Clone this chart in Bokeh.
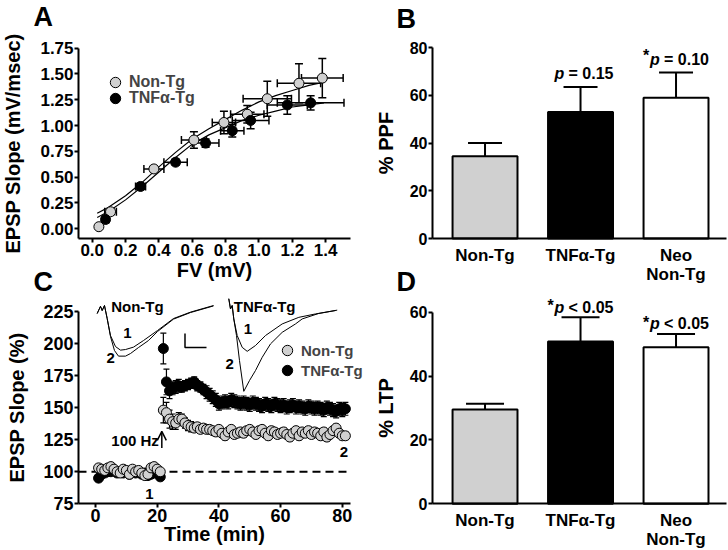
import numpy as np
from bokeh.plotting import figure
from bokeh.layouts import row, column
from bokeh.models import (ColumnDataSource, Whisker, TeeHead, Legend, LegendItem, Label,
                          Arrow, OpenHead, FixedTicker, Range1d, PrintfTickFormatter)
from bokeh.core.properties import value
from bokeh.embed import file_html
from bokeh.resources import INLINE

FONT = "Liberation Sans"
GRAY = "#d0d0d0"

# ---------------- Panel A: input/output ----------------
a_nontg_fv = [0.04, 0.11, 0.37, 0.61, 0.79, 0.93, 1.05, 1.24, 1.38]
a_nontg_fv_err = [0.01, 0.035, 0.06, 0.075, 0.07, 0.10, 0.145, 0.13, 0.125]
a_nontg_slope = [0.02, 0.165, 0.58, 0.86, 1.03, 1.11, 1.26, 1.41, 1.46]
a_nontg_slope_err = [0.01, 0.03, 0.03, 0.08, 0.11, 0.085, 0.17, 0.19, 0.19]
a_tnf_fv = [0.08, 0.29, 0.50, 0.68, 0.84, 0.95, 1.17, 1.31]
a_tnf_fv_err = [0.02, 0.03, 0.07, 0.08, 0.07, 0.11, 0.12, 0.20]
a_tnf_slope = [0.09, 0.41, 0.645, 0.83, 0.95, 1.05, 1.20, 1.22]
a_tnf_slope_err = [0.02, 0.03, 0.03, 0.04, 0.06, 0.08, 0.09, 0.07]
a_fit_fv = [0.03, 0.1, 0.2, 0.3, 0.4, 0.5, 0.6, 0.7, 0.8, 0.9, 1.0, 1.1, 1.2, 1.3, 1.39]
a_fit_nontg = [0.15, 0.21, 0.32, 0.45, 0.60, 0.74, 0.87, 0.97, 1.06, 1.15, 1.23, 1.29, 1.34, 1.39, 1.42]
a_fit_tnf = [0.11, 0.17, 0.28, 0.41, 0.55, 0.69, 0.82, 0.91, 0.98, 1.05, 1.10, 1.14, 1.18, 1.20, 1.22]
a_xticks = [0.0, 0.2, 0.4, 0.6, 0.8, 1.0, 1.2, 1.4]
a_yticks = [0.0, 0.25, 0.5, 0.75, 1.0, 1.25, 1.5, 1.75]
a_xlim = (-0.082, 1.55)
a_ylim = (-0.097, 1.75)

# ---------------- Panel B / D: bars ----------------
bar_categories = ["Non-Tg", "TNF\u03b1-Tg", "Neo\nNon-Tg"]
bar_fills = [GRAY, "#000000", "#ffffff"]
ppf_mean = [34.5, 53.0, 59.0]
ppf_err = [5.5, 10.5, 10.5]
ppf_star = [False, False, True]
ppf_ptext = [None, "= 0.15", "= 0.10"]
ltp_mean = [29.5, 50.8, 49.0]
ltp_err = [1.8, 7.6, 4.2]
ltp_star = [False, True, True]
ltp_ptext = [None, "< 0.05", "< 0.05"]
b_yticks = [0, 20, 40, 60, 80]
d_yticks = [0, 20, 40, 60]
bar_xlim = (-0.55, 2.53)

# ---------------- Panel C: LTP time course ----------------
c_base_time = list(range(1, 22))
c_post_time = list(range(22, 82))
c_nontg_base = [103, 102, 101, 103, 104, 102, 100, 99, 102, 101, 98,
                102, 100, 101, 99, 97, 98, 103, 104, 102, 100]
c_tnf_base = [95, 98, 99, 100, 100, 101, 99, 100, 99, 100, 98,
              100, 99, 100, 98, 99, 97, 98, 99, 100, 96]
c_nontg_post = [148, 146, 141, 139, 138, 141, 141, 138, 136, 135,
                134, 135, 133, 134, 133, 133, 132, 131, 133, 130,
                128, 131, 133, 129, 130, 131, 130, 132, 133, 131,
                129, 132, 133, 130, 128, 132, 131, 129, 130, 131,
                129, 127, 130, 132, 128, 131, 130, 132, 129, 131,
                130, 128, 131, 127, 129, 132, 134, 130, 128, 128]
c_tnf_post = [196, 170, 163, 165, 166, 167, 166, 167, 168, 169,
              170, 167, 166, 164, 162, 160, 158, 156, 153, 154,
              155, 154, 156, 155, 154, 153, 154, 153, 152, 154,
              153, 152, 151, 153, 152, 151, 153, 152, 151, 152,
              150, 151, 152, 150, 151, 150, 149, 151, 150, 149,
              150, 149, 148, 150, 149, 148, 147, 149, 148, 149]
c_nontg_post_err = [10, 8, 7, 6, 5, 5, 4, 4, 4, 4] + [3] * 50
c_tnf_post_err = [12, 10, 6, 5, 5, 5, 4, 4, 4, 4] + [4] * 4 + [5] * 46
c_base_err = [2] * 21
c_baseline_pct = 100
c_hfs_time = 21.5
c_xticks = [0, 20, 40, 60, 80]
c_yticks = [75, 100, 125, 150, 175, 200, 225]
c_xlim = (-5.51, 82.66)
c_ylim = (75, 225)

# example EPSP waveforms (ms, mV relative to baseline)
w_nt1_t = [0, 0.66, 1.0, 1.46, 2.0, 2.66, 3.66, 4.66, 5.66, 7.26, 9.26, 12.06, 15.26, 18.66, 23.26]
w_nt1_v = [-0.4, -0.04, -0.25, 0, -0.65, -1.5, -2.05, -2.23, -2.2, -2.08, -1.75, -1.25, -0.65, -0.33, 0]
w_nt2_t = [0, 0.66, 1.0, 1.46, 2.0, 2.66, 3.46, 4.26, 5.66, 6.66, 8.26, 10.26, 12.06, 15.26, 18.66, 23.26]
w_nt2_v = [-0.4, -0.04, -0.25, 0, -0.65, -1.55, -2.25, -2.53, -2.53, -2.4, -2.1, -1.75, -1.3, -0.68, -0.35, -0.02]
w_tnf1_t = [0, 0.34, 0.68, 1.0, 1.68, 2.68, 3.68, 5.34, 7.34, 10.68, 14.0, 17.34, 21.34]
w_tnf1_v = [0.34, -0.17, 0, -0.67, -1.5, -2.09, -2.29, -2.0, -1.5, -0.92, -0.59, -0.42, -0.25]
w_tnf2_t = [0, 0.34, 0.68, 1.0, 1.54, 2.14, 3.0, 4.14, 5.34, 6.68, 8.34, 10.68, 13.34, 14.68, 17.94, 21.68]
w_tnf2_v = [0.34, -0.17, 0, -0.67, -1.5, -2.75, -4.29, -3.75, -3.25, -2.59, -1.92, -1.34, -0.92, -0.67, -0.4, -0.23]
scalebar_ms, scalebar_mv = 4.3, 0.7

# inset placement (data units of panel C)
INSET_NT_X0, INSET_TNF_X0, INSET_Y0 = 0.55, 43.21, 229.5
MS_TO_MIN, MV_TO_PCT = 1.621, 15.585

TOP_H, BOT_H = 297, 252


def make_fig(w, h, xr, yr):
    p = figure(width=w, height=h, output_backend="svg", toolbar_location=None, tools="",
               x_range=Range1d(*xr), y_range=Range1d(*yr), min_border=0)
    p.outline_line_color = None
    p.xgrid.grid_line_color = None
    p.ygrid.grid_line_color = None
    for ax in p.axis:
        ax.axis_line_width = 2
        ax.major_tick_line_width = 2
        ax.major_tick_out = 4
        ax.major_tick_in = 0
        ax.minor_tick_line_color = None
        ax.major_label_text_font = FONT
        ax.major_label_text_font_style = "bold"
        ax.major_label_text_font_size = "16px"
        ax.major_label_text_color = "black"
        ax.major_label_text_line_height = 1.0
        ax.axis_label_text_font = FONT
        ax.axis_label_text_font_style = "bold"
        ax.axis_label_text_font_size = "20px"
        ax.axis_label_text_color = "black"
        ax.axis_label_text_line_height = 1.0
        ax.major_label_standoff = 1
    return p


def set_axes(p, xloc, yloc, xb, yb):
    p.xaxis.fixed_location = xloc
    p.yaxis.fixed_location = yloc
    p.xaxis.bounds = xb
    p.yaxis.bounds = yb


def panel_letter(p, text, x, y):
    p.add_layout(Label(x=x, y=y, x_units="screen", y_units="screen", text=text,
                       text_font=FONT, text_font_style="bold", text_font_size="27px",
                       text_baseline="alphabetic", text_align="left", text_color="black"))


def legend_item(p, label, rend, loc, size):
    p.add_layout(Legend(items=[LegendItem(label=label, renderers=[rend])],
                        location=loc, padding=0, margin=0, spacing=0,
                        glyph_width=26, glyph_height=26, label_height=16, label_standoff=1,
                        label_text_font=FONT, label_text_font_style="bold",
                        label_text_font_size=size,
                        background_fill_alpha=0, border_line_alpha=0))


# ================= Panel A =================
pA = make_fig(364, TOP_H, (-0.550, 1.633), (-0.666, 2.212))
set_axes(pA, a_ylim[0], a_xlim[0], a_xlim, a_ylim)
pA.xaxis.ticker = FixedTicker(ticks=a_xticks)
pA.yaxis.ticker = FixedTicker(ticks=a_yticks)
pA.xaxis.formatter = PrintfTickFormatter(format="%.1f")
pA.yaxis.formatter = PrintfTickFormatter(format="%.2f")
pA.xaxis.major_label_text_font_size = "17px"
pA.yaxis.major_label_text_font_size = "17px"
pA.xaxis.axis_label = "FV (mV)"
pA.yaxis.axis_label = "EPSP Slope (mV/msec)"
pA.xaxis.axis_label_standoff = 0
pA.yaxis.axis_label_standoff = 13

pA.line(a_fit_fv, a_fit_nontg, line_color="black", line_width=1.2)
pA.line(a_fit_fv, a_fit_tnf, line_color="black", line_width=1.2)

for fv, fve, sl, sle in [(a_nontg_fv, a_nontg_fv_err, a_nontg_slope, a_nontg_slope_err),
                         (a_tnf_fv, a_tnf_fv_err, a_tnf_slope, a_tnf_slope_err)]:
    fv, fve, sl, sle = map(np.array, (fv, fve, sl, sle))
    src = ColumnDataSource(dict(x=fv, y=sl, xl=fv - fve, xu=fv + fve, yl=sl - sle, yu=sl + sle))
    pA.add_layout(Whisker(source=src, base="x", lower="yl", upper="yu", dimension="height",
                          line_width=1.5, upper_head=TeeHead(size=8, line_width=1.5),
                          lower_head=TeeHead(size=8, line_width=1.5)))
    pA.add_layout(Whisker(source=src, base="y", lower="xl", upper="xu", dimension="width",
                          line_width=1.5, upper_head=TeeHead(size=8, line_width=1.5),
                          lower_head=TeeHead(size=8, line_width=1.5)))
rA_g = pA.scatter(a_nontg_fv, a_nontg_slope, size=10, fill_color=GRAY, line_color="black", line_width=1)
rA_b = pA.scatter(a_tnf_fv, a_tnf_slope, size=10, fill_color="black", line_color="black", line_width=1)
legend_item(pA, "Non-Tg", rA_g, (102, 202), "16px")
legend_item(pA, "TNF\u03b1-Tg", rA_b, (102, 186), "16px")
panel_letter(pA, "A", 33, 281)
panel_letter(pA, "C", 33, 16)


# ================= Panel B / D =================
def bar_panel(means, errs, stars, ptexts, height, yr, yticks, ylabel, cap, poff, soff):
    p = make_fig(363, height, (-1.262, 2.539), yr)
    set_axes(p, 0, bar_xlim[0], bar_xlim, (yticks[0], yticks[-1]))
    xs = list(range(len(bar_categories)))
    p.xaxis.ticker = FixedTicker(ticks=xs)
    p.xaxis.major_label_overrides = {i: c for i, c in enumerate(bar_categories)}
    p.xaxis.major_tick_line_color = None
    p.xaxis.major_label_text_font_size = "17px"
    p.xaxis.major_label_standoff = 3
    p.yaxis.ticker = FixedTicker(ticks=yticks)
    p.yaxis.axis_label = ylabel
    p.yaxis.axis_label_standoff = 10
    hi = [m + e for m, e in zip(means, errs)]
    src = ColumnDataSource(dict(x=xs, m=means, hi=hi, fill=bar_fills))
    p.add_layout(Whisker(source=src, base="x", lower="m", upper="hi", line_width=2,
                         upper_head=TeeHead(size=cap, line_width=2), lower_head=None))
    p.vbar(x="x", top="m", bottom=0, width=0.68, fill_color="fill", line_color="black",
           line_width=2, source=src)
    for i in xs:
        if ptexts[i] is None:
            continue
        p.text(x=[xs[i]], y=[hi[i]], text=["p"], x_offset=-26, y_offset=poff,
               text_font=value(FONT), text_font_style="bold italic", text_font_size=value("16px"),
               text_align="left", text_baseline="middle", text_color="black")
        p.text(x=[xs[i]], y=[hi[i]], text=[ptexts[i]], x_offset=-12, y_offset=poff,
               text_font=value(FONT), text_font_style="bold", text_font_size=value("16px"),
               text_align="left", text_baseline="middle", text_color="black")
        if stars[i]:
            p.text(x=[xs[i]], y=[hi[i]], text=["*"], x_offset=-30, y_offset=soff,
                   text_font=value(FONT), text_font_style="bold", text_font_size=value("16px"),
                   text_align="center", text_baseline="top", text_color="black")
    return p


pB = bar_panel(ppf_mean, ppf_err, ppf_star, ppf_ptext, TOP_H, (-24.71, 99.69), b_yticks,
               "% PPF", 34, -13, -26)
panel_letter(pB, "B", 32, 279)
panel_letter(pB, "D", 32, 16)
pD = bar_panel(ltp_mean, ltp_err, ltp_star, ltp_ptext, BOT_H, (-14.31, 64.61), d_yticks,
               "% LTP", 38, -10, -20)

# ================= Panel C =================
pC = make_fig(364, BOT_H, (-30.79, 87.2), (39.4, 235.76))
set_axes(pC, c_ylim[0], c_xlim[0], c_xlim, c_ylim)
pC.xaxis.ticker = FixedTicker(ticks=c_xticks)
pC.yaxis.ticker = FixedTicker(ticks=c_yticks)
pC.xaxis.major_label_text_font_size = "18px"
pC.yaxis.major_label_text_font_size = "18px"
pC.xaxis.axis_label = "Time (min)"
pC.yaxis.axis_label = "EPSP Slope (%)"
pC.xaxis.axis_label_standoff = -2
pC.yaxis.axis_label_standoff = 12

pC.line(list(c_xlim), [c_baseline_pct] * 2, line_color="black", line_width=2, line_dash="8 5")

t_all = c_base_time + c_post_time
tnf_all = np.array(c_tnf_base + c_tnf_post, dtype=float)
nt_all = np.array(c_nontg_base + c_nontg_post, dtype=float)
tnf_err = np.array(c_base_err + c_tnf_post_err, dtype=float)
nt_err = np.array(c_base_err + c_nontg_post_err, dtype=float)
src_t = ColumnDataSource(dict(t=t_all, y=tnf_all, lo=tnf_all - tnf_err, hi=tnf_all + tnf_err))
src_n = ColumnDataSource(dict(t=t_all, y=nt_all, lo=nt_all - nt_err, hi=nt_all + nt_err))
for s in (src_t, src_n):
    pC.add_layout(Whisker(source=s, base="t", lower="lo", upper="hi", line_width=1.2,
                          upper_head=TeeHead(size=6, line_width=1.2),
                          lower_head=TeeHead(size=6, line_width=1.2)))
rC_b = pC.scatter("t", "y", source=src_t, size=10, fill_color="black", line_color="black", line_width=1)
rC_g = pC.scatter("t", "y", source=src_n, size=10, fill_color=GRAY, line_color="black", line_width=1)
legend_item(pC, "Non-Tg", rC_g, (274, 186), "15px")
legend_item(pC, "TNF\u03b1-Tg", rC_b, (274, 166), "15px")


def inset(tms, mv, x0):
    return ([x0 + t * MS_TO_MIN for t in tms], [INSET_Y0 + v * MV_TO_PCT for v in mv])


for tms, mv, x0 in [(w_nt1_t, w_nt1_v, INSET_NT_X0), (w_nt2_t, w_nt2_v, INSET_NT_X0),
                    (w_tnf1_t, w_tnf1_v, INSET_TNF_X0), (w_tnf2_t, w_tnf2_v, INSET_TNF_X0)]:
    xx, yy = inset(tms, mv, x0)
    pC.line(xx, yy, line_color="black", line_width=1)

sb_x, sb_y = inset([17.56, 17.56, 17.56 + scalebar_ms], [-2.1 + scalebar_mv, -2.1, -2.1], INSET_NT_X0)
pC.line(sb_x, sb_y, line_color="black", line_width=1.5)


def ctext(x, y, t, size="15px", align="left"):
    pC.text(x=[x], y=[y], text=[t], text_font=value(FONT), text_font_style="bold",
            text_font_size=value(size), text_align=align, text_baseline="middle", text_color="black")


lx, ly = inset([2.8, 5.2, 1.86], [-0.04, -1.37, -2.6], INSET_NT_X0)
ctext(lx[0], ly[0], "Non-Tg")
ctext(lx[1], ly[1], "1")
ctext(lx[2], ly[2], "2")
lx, ly = inset([1.0, 3.0, -0.66], [-0.04, -1.17, -2.9], INSET_TNF_X0)
ctext(lx[0], ly[0], "TNF\u03b1-Tg")
ctext(lx[1], ly[1], "1")
ctext(lx[2], ly[2], "2")

ctext(17.5, 82.8, "1", align="center")
ctext(80.5, 115.2, "2", align="center")
pC.text(x=[c_hfs_time], y=[124], text=["100 Hz"], x_offset=-3, text_font=value(FONT),
        text_font_style="bold", text_font_size=value("15px"), text_align="right",
        text_baseline="middle", text_color="black")
pC.add_layout(Arrow(end=OpenHead(size=9, line_width=1.5), x_start=c_hfs_time, y_start=118.5,
                    x_end=c_hfs_time, y_end=131.5, line_width=1.5))

layout = row(column(pA, pC), column(pB, pD))
open("out.html", "w").write(file_html(layout, INLINE))
